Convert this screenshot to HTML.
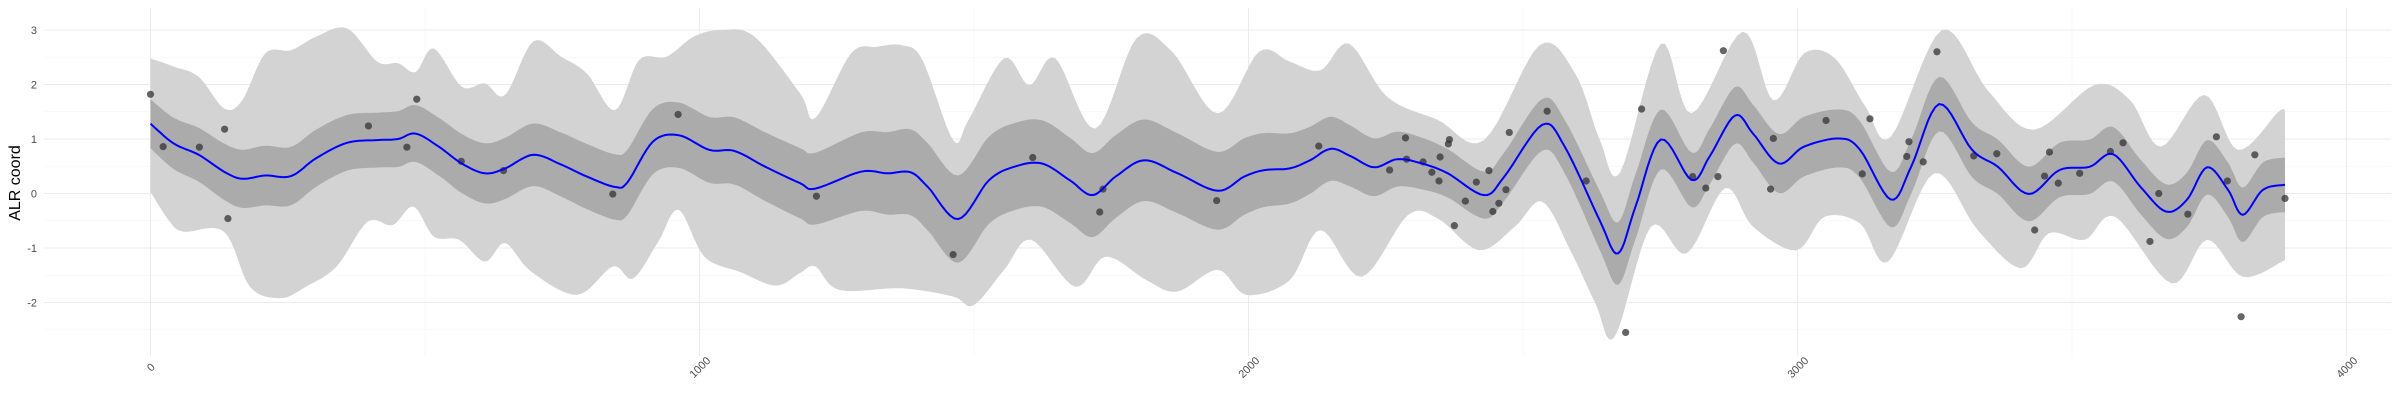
<!DOCTYPE html>
<html><head><meta charset="utf-8"><style>
html,body{margin:0;padding:0;background:#fff;}
svg{display:block;font-family:"Liberation Sans",sans-serif;}
</style></head><body>
<svg id="chart" width="2400" height="400" viewBox="0 0 2400 400">
<rect x="0" y="0" width="2400" height="400" fill="#fff"/>
<g id="grid"></g>
<g id="bands"></g>
<g id="marks"></g>
<g id="axes"></g>
<text x="20" y="183" transform="rotate(-90 20 183)" text-anchor="middle" font-size="16" fill="#000">ALR coord</text>
</svg>
<script>
const xTicks = [0, 1000, 2000, 3000, 4000];
const yTicks = [-2, -1, 0, 1, 2, 3];
const meanX = [0,42,88,134,167,209,256,302,358,413,451,483,525,567,609,646,697,748,795,846,869,915,962,1018,1064,1120,1183,1211,1294,1342,1384,1416,1471,1527,1573,1624,1675,1716,1758,1810,1871,1944,1992,2029,2075,2112,2150,2187,2229,2271,2316,2363,2429,2466,2535,2576,2640,2673,2705,2751,2807,2840,2886,2919,2966,3012,3077,3114,3170,3207,3258,3318,3365,3421,3477,3532,3575,3625,3671,3709,3746,3784,3811,3848,3888];
const meanY = [1.28,0.92,0.71,0.40,0.27,0.33,0.32,0.65,0.93,0.98,1.0,1.10,0.86,0.55,0.37,0.46,0.71,0.53,0.31,0.12,0.21,0.95,1.07,0.80,0.78,0.49,0.19,0.09,0.40,0.37,0.39,0.12,-0.47,0.24,0.49,0.55,0.24,-0.03,0.31,0.61,0.37,0.05,0.31,0.43,0.46,0.61,0.82,0.68,0.48,0.63,0.55,0.37,-0.03,0.31,1.26,0.86,-0.50,-1.10,-0.24,0.99,0.25,0.68,1.43,1.10,0.55,0.86,1.01,0.80,-0.11,0.49,1.64,0.80,0.49,-0.01,0.43,0.49,0.72,0.12,-0.33,-0.12,0.48,0.07,-0.39,0.07,0.16];
const innerX = [0,200,400,600,800,1000,1200,1400,1600,1800,2000,2200,2400,2600,2700,2800,3000,3200,3400,3600,3800,3888];
const innerHalf = [0.45,0.55,0.5,0.55,0.6,0.6,0.65,0.8,0.8,0.75,0.7,0.55,0.42,0.5,0.6,0.5,0.55,0.5,0.5,0.5,0.5,0.5];
const upX = [0,42,88,134,167,209,256,302,358,413,451,483,516,567,609,646,697,748,795,846,890,940,990,1040,1100,1183,1211,1276,1323,1369,1406,1462,1490,1555,1601,1648,1721,1796,1861,1944,2019,2075,2131,2183,2253,2345,2429,2530,2595,2640,2677,2751,2807,2900,2956,3012,3068,3124,3170,3263,3346,3430,3541,3606,3662,3741,3802,3876,3888];
const upY = [2.48,2.33,2.14,1.56,1.71,2.57,2.63,2.88,3.03,2.42,2.39,2.23,2.66,1.96,2.02,1.81,2.79,2.51,2.20,1.53,2.45,2.51,2.88,3.0,2.88,1.84,1.39,2.57,2.69,2.72,2.45,0.98,1.35,2.48,1.99,2.48,1.19,2.85,2.60,1.47,2.60,2.42,2.26,2.75,1.77,1.35,0.98,2.72,2.20,0.98,0.39,2.75,1.47,2.97,1.71,2.57,2.48,1.59,1.04,3.0,1.90,1.17,1.99,1.71,0.86,1.81,0.80,1.50,1.50];
const loX = [0,33,60,134,181,237,283,339,395,441,479,516,562,609,646,693,777,842,879,925,962,1009,1074,1139,1183,1211,1255,1369,1462,1499,1555,1604,1684,1740,1814,1870,1944,1996,2075,2131,2206,2290,2345,2420,2485,2535,2586,2632,2667,2733,2798,2868,2919,2998,3049,3114,3165,3249,3328,3407,3458,3523,3579,3681,3746,3811,3888];
const loY = [0.03,-0.49,-0.70,-0.70,-1.71,-1.92,-1.71,-1.34,-0.52,-0.58,-0.24,-0.79,-0.85,-1.25,-0.91,-1.43,-1.86,-1.34,-1.56,-0.88,-0.30,-1.16,-1.44,-1.69,-1.46,-1.34,-1.77,-1.74,-1.89,-2.05,-1.40,-0.85,-1.71,-1.16,-1.59,-1.80,-1.40,-1.86,-1.59,-0.67,-1.53,-0.40,-0.46,-1.04,-0.61,-0.15,-1.04,-2.02,-2.63,-0.61,-1.10,0.095,-0.61,-1.04,-0.43,-0.55,-1.25,0.37,-0.67,-1.37,-0.73,-0.85,-0.43,-1.65,-0.85,-1.53,-1.22];
const ptX = [0,23,89,135,141,397,467,485,566,643,842,961,1213,1462,1607,1735,1729,1942,2128,2257,2286,2288,2318,2334,2347,2349,2364,2366,2375,2395,2415,2438,2445,2456,2469,2475,2544,2615,2687,2716,2809,2833,2855,2865,2951,2956,3052,3118,3132,3199,3203,3229,3254,3321,3363,3432,3450,3459,3475,3514,3570,3593,3642,3658,3711,3763,3783,3808,3833,3888];
const ptY = [1.82,0.86,0.85,1.18,-0.46,1.24,0.85,1.73,0.59,0.42,-0.01,1.45,-0.05,-1.12,0.66,0.08,-0.34,-0.13,0.87,0.43,1.02,0.63,0.58,0.39,0.23,0.67,0.91,0.99,-0.59,-0.14,0.21,0.42,-0.33,-0.18,0.07,1.12,1.51,0.23,-2.55,1.55,0.31,0.10,0.31,2.62,0.08,1.01,1.34,0.36,1.37,0.68,0.95,0.58,2.60,0.69,0.73,-0.67,0.32,0.76,0.19,0.37,0.77,0.93,-0.88,0.00,-0.38,1.04,0.23,-2.26,0.71,-0.09];

const NS = 'http://www.w3.org/2000/svg';
const PX0 = 150.5, PXK = 0.549, PY0 = 193.5, PYK = 54.5;
const L = 44, R = 2391, T = 8, B = 356;
function sx(v){ return PX0 + PXK * v; }
function sy(v){ return PY0 - PYK * v; }
function mk(tag, attrs, parent){ const e = document.createElementNS(NS, tag); for (const k in attrs) e.setAttribute(k, attrs[k]); parent.appendChild(e); return e; }
function smoothPts(xs, ys){
  const p = xs.map((x,i)=>[sx(x), sy(ys[i])]);
  const out = [];
  for (let i=0;i<p.length-1;i++){
    const p0=p[Math.max(0,i-1)], p1=p[i], p2=p[i+1], p3=p[Math.min(p.length-1,i+2)];
    for (let s=0;s<8;s++){
      const t=s/8, t2=t*t, t3=t2*t;
      const f=(a,b,c,d)=>0.5*((2*b)+(-a+c)*t+(2*a-5*b+4*c-d)*t2+(-a+3*b-3*c+d)*t3);
      out.push([f(p0[0],p1[0],p2[0],p3[0]), f(p0[1],p1[1],p2[1],p3[1])]);
    }
  }
  out.push(p[p.length-1]);
  return out;
}
function lerp(xs, ys, x){
  if (x <= xs[0]) return ys[0];
  for (let i=1;i<xs.length;i++) if (x <= xs[i]) { const t=(x-xs[i-1])/(xs[i]-xs[i-1]); return ys[i-1]+t*(ys[i]-ys[i-1]); }
  return ys[ys.length-1];
}
const toD = pts => pts.map((q,i)=>(i?'L':'M')+q[0].toFixed(1)+','+q[1].toFixed(1)).join('');

// grid
const grid = document.getElementById('grid');
for (let v=-2.5; v<=3.01; v+=0.5){
  const major = Math.abs(v - Math.round(v)) < 1e-6;
  const ln = mk('line',{x1:L,x2:R,y1:sy(v),y2:sy(v),stroke:major?'#ebebeb':'#f3f3f3','stroke-width':major?1.1:0.6},grid);
  
  
}
for (let v=0; v<=4000; v+=500){
  const major = v % 1000 === 0;
  const ln = mk('line',{x1:sx(v),x2:sx(v),y1:T,y2:B,stroke:major?'#ebebeb':'#f3f3f3','stroke-width':major?1.1:0.6},grid);
  
  
}

// bands
const bands = document.getElementById('bands');
const up = smoothPts(upX, upY), lo = smoothPts(loX, loY).reverse();
const outer = mk('path',{d:toD(up.concat(lo))+'Z',fill:'#d3d3d3'},bands);


const iu = meanY.map((y,i)=>y+lerp(innerX,innerHalf,meanX[i]));
const il = meanY.map((y,i)=>y-lerp(innerX,innerHalf,meanX[i]));
const inner = mk('path',{d:toD(smoothPts(meanX,iu).concat(smoothPts(meanX,il).reverse()))+'Z',fill:'#ababab'},bands);



// marks
const marks = document.getElementById('marks');
ptX.forEach((x,i)=>{
  const c = mk('circle',{cx:sx(x),cy:sy(ptY[i]),r:3.6,fill:'#333','fill-opacity':0.75},marks);
  
  
});
const line = mk('path',{d:toD(smoothPts(meanX,meanY)),fill:'none',stroke:'#0000ff','stroke-width':2},marks);



// axes labels
const axes = document.getElementById('axes');
yTicks.forEach(v=>{
  const t = mk('text',{x:37,y:sy(v)+4,'text-anchor':'end','font-size':11,fill:'#4d4d4d'},axes);
  t.textContent = String(v);
  
  
});
xTicks.forEach(v=>{
  const x = sx(v)+3, y = 370;
  const t = mk('text',{x:x,y:y,'text-anchor':'middle','font-size':11,fill:'#4d4d4d',transform:`rotate(-45 ${x} ${y})`},axes);
  t.textContent = String(v);
  
  
});
</script>
</body></html>
